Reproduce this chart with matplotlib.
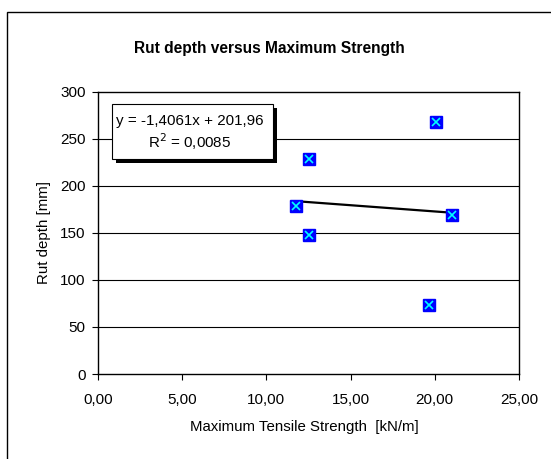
import numpy as np
import matplotlib
matplotlib.use('Agg')
import matplotlib.pyplot as plt
from matplotlib.patches import Rectangle
from matplotlib.ticker import FuncFormatter

plt.rcParams['font.family'] = ['Liberation Sans', 'DejaVu Sans']

# data
tensile_strength = [20.1, 12.55, 11.75, 12.55, 21.05, 19.65]
rut_depth = [268.5, 228.7, 179.0, 148.0, 169.5, 73.5]
eq_label = 'y = -1,4061x + 201,96'
r2_label = 'R$^2$ = 0,0085'
x_ticks = [0, 5, 10, 15, 20, 25]
y_ticks = [0, 50, 100, 150, 200, 250, 300]

W, H = 551, 459


def fx(px):
    return px / W


def fy(py):
    return 1 - py / H


fig = plt.figure(figsize=(W / 100, H / 100), dpi=100)
ax = fig.add_axes([fx(98), fy(374), 421 / W, 282 / H])

# ramka wokol calego wykresu
fig.patches.append(Rectangle((fx(7), -0.1), 1.2, fy(12) + 0.1,
                             transform=fig.transFigure, fill=False,
                             edgecolor='black', linewidth=1.0))

for y in y_ticks[1:-1]:
    ax.axhline(y, color='black', linewidth=0.8, zorder=1)

ax.plot(tensile_strength, rut_depth, linestyle='none', marker='s',
        markersize=8.4, markerfacecolor='#0000FF', markeredgecolor='#0000FF',
        zorder=3)
ax.plot(tensile_strength, rut_depth, linestyle='none', marker='x',
        markersize=6.0, markeredgecolor='#00FFFF', markeredgewidth=1.2,
        zorder=4)

# linia trendu
slope, intercept = np.polyfit(tensile_strength, rut_depth, 1)
xs = np.array([min(tensile_strength), max(tensile_strength)])
ax.plot(xs, slope * xs + intercept, color='black', linewidth=1.6, zorder=2)

ax.set_xlim(0, 25)
ax.set_ylim(0, 300)
ax.set_xticks(x_ticks)
ax.set_yticks(y_ticks)
ax.xaxis.set_major_formatter(FuncFormatter(lambda v, p: f'{v:.2f}'.replace('.', ',')))
ax.tick_params(direction='out', length=4, width=0.8, labelsize=11)
ax.tick_params(axis='x', pad=10)
ax.tick_params(axis='y', pad=5)
for s in ax.spines.values():
    s.set_linewidth(1.0)

fig.text(fx(304), fy(427), 'Maximum Tensile Strength  [kN/m]',
         ha='center', va='center', fontsize=10.8)
fig.text(fx(44), fy(233), 'Rut depth [mm]', rotation=90,
         ha='center', va='center', fontsize=10.8)
fig.text(fx(269), fy(48), 'Rut depth versus Maximum Strength',
         ha='center', va='center', fontsize=11.2, fontweight='bold')

# ramka z rownaniem (z cieniem)
fig.patches.append(Rectangle((fx(116), fy(163)), 161 / W, 55 / H,
                             transform=fig.transFigure, facecolor='black',
                             edgecolor='none', zorder=5))
fig.patches.append(Rectangle((fx(112), fy(159)), 161 / W, 55 / H,
                             transform=fig.transFigure, facecolor='white',
                             edgecolor='black', linewidth=0.8, zorder=6))
fig.text(fx(190), fy(121), eq_label, ha='center', va='center',
         fontsize=10.9, zorder=7)
fig.text(fx(190), fy(142), r2_label, ha='center', va='center',
         fontsize=10.9, zorder=7)

fig.savefig('out.png', dpi=100)
